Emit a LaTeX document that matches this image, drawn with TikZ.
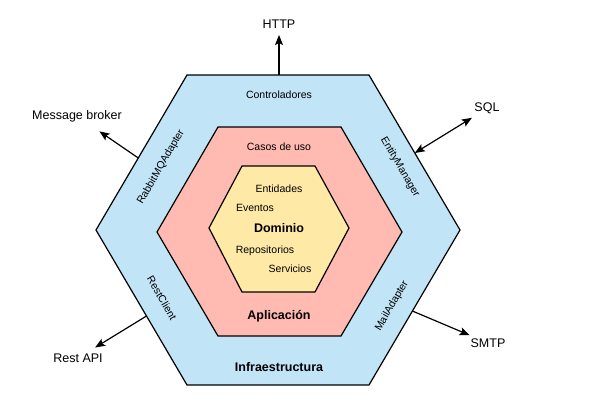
\documentclass[tikz,border=0pt]{standalone}
\usepackage{fontspec}
\setmainfont{Liberation Sans}
\usetikzlibrary{arrows.meta}
\definecolor{infra}{RGB}{193,228,247}
\definecolor{aplic}{RGB}{255,186,178}
\definecolor{domin}{RGB}{255,233,166}

\begin{document}
\begin{tikzpicture}[x=1pt, y=-1pt,
  hexa/.style={draw=black, line width=1.2pt, line join=miter},
  small/.style={font=\fontsize{10.5}{12}\selectfont, inner sep=0pt},
  big/.style={font=\fontsize{12.5}{14}\selectfont\bfseries, inner sep=0pt},
  outside/.style={font=\fontsize{12.5}{14}\selectfont, inner sep=2pt},
  flecha/.style={-{Stealth[length=10pt, width=8pt, inset=2pt]}, line width=1.2pt},
  doble/.style={{Stealth[length=10pt, width=8pt, inset=2pt]}-{Stealth[length=10pt, width=8pt, inset=2pt]}, line width=1.2pt}]
\useasboundingbox (0,0) rectangle (600,400);

\filldraw[hexa, fill=infra] (187,75) -- (369,75) -- (460,230) -- (369,385) -- (187,385) -- (96,230) -- cycle;
\filldraw[hexa, fill=aplic] (218,127) -- (341,127) -- (402,232) -- (341,336) -- (218,336) -- (157,232) -- cycle;
\filldraw[hexa, fill=domin] (242,166) -- (315,166) -- (349,228) -- (315,292) -- (242,292) -- (209,228) -- cycle;

\node[small] (ctrl) at (279,95) {Controladores};
\node[small] (casos) at (279,147) {Casos de uso};
\node[small] (ent) at (279,189) {Entidades};
\node[small] (ev) at (255,208) {Eventos};
\node[big] (dom) at (279,228) {Dominio};
\node[small] (rep) at (265,251) {Repositorios};
\node[small] (serv) at (290,269) {Servicios};
\node[big] (apl) at (279,316) {Aplicación};
\node[big] (inf) at (279,367) {Infraestructura};

\node[small, rotate=60] (rabbit) at (161,167) {RabbitMQAdapter};
\node[small, rotate=-60] (entity) at (400,167) {EntityManager};
\node[small, rotate=-60] (rest) at (162,298) {RestClient};
\node[small, rotate=60] (mail) at (392,306) {MailAdapter};

\node[outside] (http) at (279,24) {HTTP};
\node[outside] (broker) at (77,116) {Message broker};
\node[outside] (sql) at (487,108.5) {SQL};
\node[outside] (restapi) at (78,358) {Rest API};
\node[outside] (smtp) at (488,343) {SMTP};

\coordinate (http-in) at (279,75);
\coordinate (broker-in) at (138.3,158);
\coordinate (sql-in) at (414.8,153);
\coordinate (restapi-in) at (146.5,316);
\coordinate (smtp-in) at (412.4,311);

\draw[flecha, shorten >=4.5pt] (http-in) -- (http);
\draw[flecha, shorten >=13pt] (broker-in) -- (broker);
\draw[doble, shorten >=3pt] (sql-in) -- (sql);
\draw[flecha, shorten >=7.5pt] (restapi-in) -- (restapi);
\draw[flecha, shorten >=3pt] (smtp-in) -- (smtp);
\end{tikzpicture}
\end{document}
